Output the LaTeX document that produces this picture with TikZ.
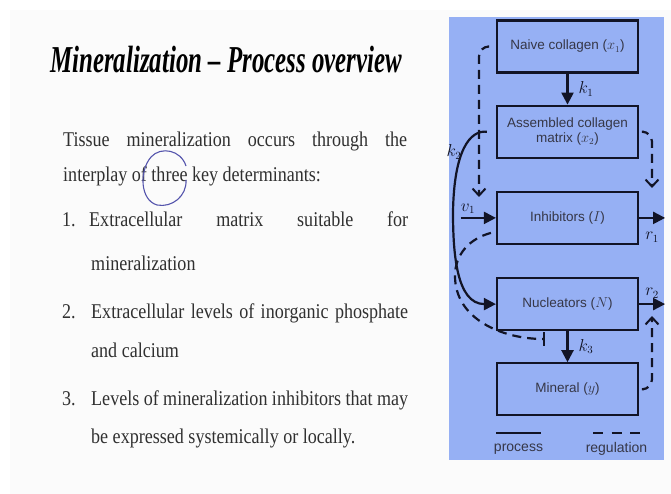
\documentclass[tikz,border=0pt]{standalone}
\usepackage{fontspec}
\setmainfont{Liberation Serif}[FakeStretch=0.86]
\newfontfamily\titlefont{Liberation Serif}[Ligatures=TeX]
\newfontfamily\boxfont{Liberation Sans}
\usepackage{tikz}
\usetikzlibrary{positioning}
\usetikzlibrary{arrows.meta,calc}
\definecolor{panelblue}{RGB}{150,176,244}
\definecolor{inkline}{RGB}{18,20,38}
\definecolor{penink}{RGB}{84,84,172}
\definecolor{bodytext}{RGB}{48,48,48}
\tikzstyle{pool} = [rectangle, minimum width=141pt, minimum height=52pt, text centered, align=center, draw=inkline, line width=2.2pt, font=\boxfont\fontsize{13.5}{15}\selectfont, text=inkline!85]
\tikzstyle{flow} = [line width=2.2pt, draw=inkline, -{Triangle[length=12pt,width=12pt]}]
\tikzstyle{reg} = [line width=2.2pt, draw=inkline, dash pattern=on 9pt off 6pt]

\begin{document}
\begin{tikzpicture}[x=1pt,y=-1pt,
		rate/.style={font=\fontsize{16}{16}\selectfont, text=inkline, inner sep=1pt},
		textline/.style={anchor=base west, font=\fontsize{21}{22}\selectfont, text=bodytext, inner sep=0pt},
		regtip/.style={-{Straight Barb[length=7pt,width=13pt,line width=2pt]}},
		legendtext/.style={font=\boxfont\fontsize{14}{14}\selectfont, text=inkline!85},
		]
		\useasboundingbox[fill=white] (0,0) rectangle (671,494);
		\fill[black!1.5] (10,10) rectangle (671,494);
		% left: slide text
		\node[anchor=base west, inner sep=0pt] (title) at (50,73)
		{\resizebox{352pt}{\height}{\titlefont\fontsize{38}{38}\selectfont\bfseries\itshape Mineralization -- Process overview}};
		\node[textline] (l1) at (63,147) {\makebox[344pt][s]{Tissue mineralization occurs through the}};
		\node[textline] (l2) at (63,182) {interplay of three key determinants:};
		\node[textline] (n1) at (62,226) {1.};
		\node[textline] (l3) at (89,226) {\makebox[319pt][s]{Extracellular matrix suitable for}};
		\node[textline] (l4) at (91,270) {mineralization};
		\node[textline] (n2) at (62,318) {2.};
		\node[textline] (l5) at (91,318) {\makebox[317pt][s]{Extracellular levels of inorganic phosphate}};
		\node[textline] (l6) at (91,357) {and calcium};
		\node[textline] (n3) at (62,405) {3.};
		\node[textline] (l7) at (91,405) {\makebox[317pt][s]{Levels of mineralization inhibitors that may}};
		\node[textline] (l8) at (91,443) {be expressed systemically or locally.};
		% pen mark round "three"
		\draw[penink, line width=1.1pt] (186,166) .. controls (181,150) and (161,146) .. (151,157)
		.. controls (139,171) and (140,200) .. (157,205) .. controls (172,208) and (187,196) .. (186,180);
		
		% right: model panel
		\fill[panelblue] (449,17) rectangle (664,460);
		\node[pool] (naive) at (567.5,46.5) {Naive collagen ($x_1$)};
		\node[pool, below=31pt of naive] (assembled) {Assembled collagen\\matrix ($x_2$)};
		\node[pool, below=32pt of assembled] (inhib) {Inhibitors ($I$)};
		\node[pool, below=32pt of inhib] (nucl) {Nucleators ($N$)};
		\node[pool, below=31pt of nucl] (mineral) {Mineral ($y$)};
		
		\coordinate (v1start) at ([xshift=-35pt]inhib.west);
		\coordinate (r1end) at ([xshift=26pt]inhib.east);
		\coordinate (r2end) at ([xshift=26pt]nucl.east);
		\coordinate (k2bend) at (453,212);
		\coordinate (ibend) at (455,276);
		\coordinate (k3bar) at (545,339);
		\coordinate (reg1) at (479,197);
		\coordinate (reg2) at (652,188);
		\coordinate (reg3) at (652,316);
		
		% process
		\draw[flow] (naive) -- (assembled) node[rate, midway, right=9pt] (k1lab) {$k_1$};
		\draw[flow] (nucl) -- (mineral) node[rate, midway, right=9pt] (k3lab) {$k_3$};
		\draw[flow] (v1start) -- (inhib.west) node[rate, pos=0.2, above=2pt] (v1lab) {$v_1$};
		\draw[flow] (inhib.east) -- (r1end) node[rate, midway, below=12pt] (r1lab) {$r_1$};
		\draw[flow] (nucl.east) -- (r2end) node[rate, midway, above=4pt] (r2lab) {$r_2$};
		\draw[flow] ([xshift=-9pt]assembled.west) .. controls (470,130) and (454,150) .. (k2bend)
		to[out=-90,in=180] (nucl.west);
		\node[rate] (k2lab) at (454,152) {$k_2$};
		
		% regulation
		\draw[reg, regtip, rounded corners=10pt] ([xshift=-8pt]naive.west) -| (reg1);
		\draw[reg, regtip, rounded corners=10pt] ([xshift=5pt]assembled.east) -| (reg2);
		\draw[reg, regtip, rounded corners=10pt] ([xshift=5pt]mineral.east) -| (reg3);
		\draw[reg, -{Bar[width=14pt,line width=2.2pt]}] ([xshift=-5pt,yshift=-15pt]inhib.west)
		to[out=195,in=90] (ibend) to[out=-90,in=180] (k3bar);
		
		% legend
		\coordinate (pa) at (496,433);
		\coordinate (pb) at (541,433);
		\coordinate (ra) at (593,433);
		\coordinate (rb) at (640,433);
		\draw[line width=2.2pt, draw=inkline] (pa) -- (pb);
		\draw[reg, dash pattern=on 10pt off 8.5pt] (ra) -- (rb);
		\node[legendtext] (proclab) at (518.5,449) {process};
		\node[legendtext] (reglab) at (616.5,449) {regulation};
	\end{tikzpicture}
\end{document}
